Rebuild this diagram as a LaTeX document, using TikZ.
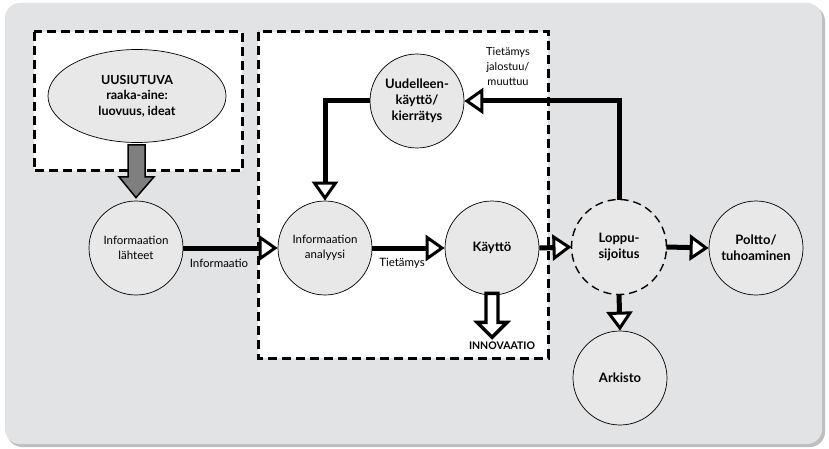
\documentclass[tikz,border=0pt]{standalone}
\usepackage{fontspec}
\setmainfont{Lato}
\usetikzlibrary{arrows.meta,shapes.geometric,calc}
\definecolor{panel}{HTML}{E2E3E5}
\definecolor{panelshade}{HTML}{BEBFC1}
\definecolor{bubble}{HTML}{E8E8E9}
\definecolor{darrow}{HTML}{7F7F7F}
\begin{document}
\begin{tikzpicture}[x=1pt,y=-1pt,
  bubble/.style={circle,draw=black,line width=0.7pt,fill=bubble,minimum size=94pt,inner sep=0pt,align=center,font=\fontsize{11.5}{15}\selectfont},
  bbold/.style={bubble,font=\bfseries\fontsize{13}{16}\selectfont},
  zone/.style={draw=black,fill=white,line width=3pt,dash pattern=on 9pt off 5pt},
  flow/.style={line width=5pt,-{Triangle[length=19pt,width=26pt,line width=3pt,fill=white]}},
  tag/.style={font=\fontsize{11.5}{15}\selectfont,inner sep=1pt}]
\useasboundingbox (0,0) rectangle (829,449);
% panel
\fill[panelshade,rounded corners=15pt] (7,6) rectangle (825,447);
\fill[panel,rounded corners=15pt] (5,3) rectangle (822,444);
% dashed zones
\draw[zone] (34,32) rectangle (242,171);
\draw[zone] (258,32) rectangle (548,358);
% nodes
\node[ellipse,draw=black,line width=0.7pt,fill=bubble,minimum width=178pt,minimum height=93pt,inner sep=0pt,align=center,font=\bfseries\fontsize{12.5}{15.5}\selectfont] (ue) at (137,96) {UUSIUTUVA\\raaka-aine:\\luovuus, ideat};
\node[bubble] (lah) at (136,248) {Informaation\\lähteet};
\node[bubble] (ana) at (325,248) {Informaation\\analyysi};
\node[bbold] (kay) at (492,248) {Käyttö};
\node[bbold,draw=none] (lop) at (619,247) {Loppu-\\sijoitus};
\draw[line width=1.4pt,dash pattern=on 8pt off 5pt] (lop.center) circle (47.5pt);
\node[bbold] (pol) at (756,248) {Poltto/\\tuhoaminen};
\node[bbold] (ark) at (620,378) {Arkisto};
\node[bbold] (uud) at (417,101) {Uudelleen-\\käyttö/\\kierrätys};
% labels
\node[tag,align=center,font=\fontsize{11}{15}\selectfont] (tj) at (508,67) {Tietämys\\jalostuu/\\muuttuu};
\node[tag] (li) at (219,263) {Informaatio};
\node[tag] (lt) at (402,263) {Tietämys};
% grey inflow arrow
\draw[line width=1.5pt,fill=darrow,line join=miter]
  ($(ue.south)+(-9,2)$) -- ($(ue.south)+(8,2)$) -- ($(ue.south)+(8,34)$)
  -- ($(ue.south)+(17,34)$) -- ($(lah.north)+(0,-3)$) -- ($(ue.south)+(-18,34)$)
  -- ($(ue.south)+(-9,34)$) -- cycle;
% connectors
\draw[flow] (lah.east) -- (ana.west);
\draw[flow] (ana.east) -- (kay.west);
\draw[flow] (kay.east) -- ($(lop.center)+(-47.5,0)$);
\draw[flow] ($(lop.center)+(47.5,0)$) -- (pol.west);
\draw[flow] ($(lop.center)+(0,47.5)$) -- (ark.north);
\draw[flow,line join=miter] ($(lop.center)+(0,-47.5)$) |- (uud.east);
\draw[flow,line join=miter] (uud.west) -| (ana.north);
% innovation outflow
\draw[line width=3.4pt,fill=white,line join=miter]
  ($(kay.south)+(-6,-2)$) -- ($(kay.south)+(6,-2)$) -- ($(kay.south)+(6,27)$)
  -- ($(kay.south)+(15,27)$) -- ($(kay.south)+(0,42)$) -- ($(kay.south)+(-15,27)$)
  -- ($(kay.south)+(-6,27)$) -- cycle;
\node[font=\bfseries\fontsize{10.5}{12}\selectfont,inner sep=1pt] (inn) at (502,346) {INNOVAATIO};
\end{tikzpicture}
\end{document}
